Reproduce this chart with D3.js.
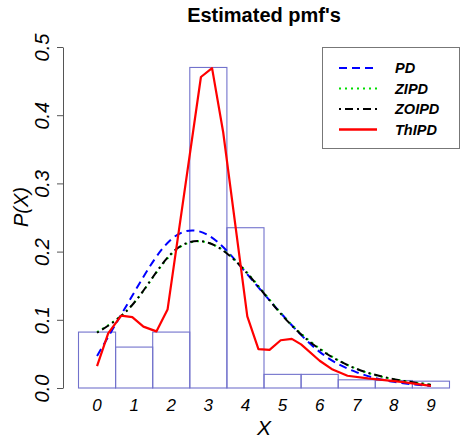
<!DOCTYPE html>
<html lang="en">
<head>
    <meta charset="UTF-8">
    <title>Estimated pmf's</title>
    <script src="https://cdn.jsdelivr.net/npm/d3@7/dist/d3.min.js"></script>
    <style>
        body { margin: 0; background: #fff; font-family: "Liberation Sans", Arial, sans-serif; }
        svg { display: block; }
    </style>
</head>
<body>
    <div id="chart"></div>
    <script>
        // observed counts and relative frequencies
        const counts = [0, 1, 2, 3, 4, 5, 6, 7, 8, 9];
        const observed = [0.082, 0.060, 0.082, 0.470, 0.235, 0.020, 0.020, 0.012, 0.011, 0.010];

        // fitted pmf's at each count
        const pd    = [0.047, 0.140, 0.218, 0.224, 0.170, 0.107, 0.053, 0.023, 0.009, 0.003];
        const zipd  = [0.082, 0.125, 0.196, 0.213, 0.172, 0.107, 0.058, 0.028, 0.013, 0.005];
        const zoipd = [0.081, 0.125, 0.197, 0.213, 0.171, 0.106, 0.057, 0.028, 0.013, 0.0045];

        // ThIPD curve, traced on its own grid
        const thipdX = [0, 0.3, 0.65, 0.95, 1.25, 1.6, 1.9, 2.8, 3.1, 3.4, 4.05, 4.35, 4.65, 4.95, 5.25, 5.5, 6.0, 6.35, 6.75, 7.3, 8.2, 9];
        const thipdP = [0.032, 0.08, 0.106, 0.104, 0.09, 0.083, 0.115, 0.456, 0.469, 0.375, 0.105, 0.057, 0.056, 0.07, 0.072, 0.064, 0.04, 0.027, 0.018, 0.014, 0.009, 0.003];

        const yTicks = [0, 0.1, 0.2, 0.3, 0.4, 0.5];

        const width = 463, height = 438;
        const svg = d3.select("#chart").append("svg")
            .attr("width", width)
            .attr("height", height);

        const x = d3.scaleLinear().domain([-0.5, 9.5]).range([78.5, 449.5]);
        const y = d3.scaleLinear().domain([0, 0.5]).range([388, 47]);

        // title
        svg.append("text")
            .attr("x", 264).attr("y", 22)
            .attr("text-anchor", "middle")
            .style("font-size", "20px").style("font-weight", "bold")
            .text("Estimated pmf's");

        // histogram boxes
        svg.append("g")
            .selectAll("rect")
            .data(counts)
            .join("rect")
            .attr("x", d => x(d - 0.5))
            .attr("y", (d, i) => y(observed[i]))
            .attr("width", x(1) - x(0))
            .attr("height", (d, i) => y(0) - y(observed[i]))
            .attr("fill", "none")
            .attr("stroke", "#7272cc")
            .attr("stroke-width", 1.1);

        // y axis
        const yAxis = svg.append("g")
            .attr("transform", "translate(63,0)")
            .call(d3.axisLeft(y).tickValues(yTicks).tickSize(6).tickFormat(d3.format(".1f")).tickSizeOuter(0));
        yAxis.select(".domain").attr("stroke", "#555");
        yAxis.selectAll(".tick line").attr("stroke", "#555");
        yAxis.selectAll(".tick text")
            .attr("x", null).attr("dy", null)
            .attr("transform", "translate(-21,0) rotate(-90)")
            .attr("text-anchor", "middle")
            .attr("dominant-baseline", "central")
            .attr("fill", "#000")
            .style("font-size", "20px").style("font-style", "italic")
            .style("font-family", "'Liberation Sans', Arial, sans-serif");

        // x tick labels (no axis line)
        svg.append("g")
            .selectAll("text")
            .data(counts)
            .join("text")
            .attr("x", d => x(d))
            .attr("y", 411)
            .attr("text-anchor", "middle")
            .style("font-size", "17px").style("font-style", "italic")
            .text(d => d);

        svg.append("text")
            .attr("x", x(4.5)).attr("y", 435)
            .attr("text-anchor", "middle")
            .style("font-size", "21px").style("font-style", "italic")
            .text("X");

        svg.append("text")
            .attr("transform", "translate(28,207) rotate(-90)")
            .attr("text-anchor", "middle")
            .style("font-size", "20px").style("font-style", "italic")
            .text("P(X)");

        // fitted curves
        const smooth = d3.line()
            .x((d, i) => x(counts[i]))
            .y(d => y(d))
            .curve(d3.curveNatural);

        const series = [
            { name: "PD", values: pd, color: "#0000ff", dash: "8,5", width: 2 },
            { name: "ZIPD", values: zipd, color: "#00dd00", dash: "2,4", width: 2 },
            { name: "ZOIPD", values: zoipd, color: "#000", dash: "2,4,8,4", width: 2 },
        ];

        series.forEach(s => {
            svg.append("path")
                .attr("d", smooth(s.values))
                .attr("fill", "none")
                .attr("stroke", s.color)
                .attr("stroke-width", s.width)
                .attr("stroke-dasharray", s.dash);
        });

        const thLine = d3.line()
            .x((d, i) => x(thipdX[i]))
            .y(d => y(d));

        svg.append("path")
            .attr("d", thLine(thipdP))
            .attr("fill", "none")
            .attr("stroke", "#ff0000")
            .attr("stroke-width", 2.2)
            .attr("stroke-linejoin", "round");

        // legend
        const legend = svg.append("g");
        legend.append("rect")
            .attr("x", 322.5).attr("y", 47.5)
            .attr("width", 137).attr("height", 101)
            .attr("fill", "#fff")
            .attr("stroke", "#777")
            .attr("stroke-width", 1);

        const legendItems = series.concat([{ name: "ThIPD", color: "#ff0000", dash: null, width: 2.5 }]);
        legendItems.forEach((s, i) => {
            const ly = 68 + i * 20.5;
            legend.append("line")
                .attr("x1", 339).attr("x2", 377)
                .attr("y1", ly).attr("y2", ly)
                .attr("stroke", s.color)
                .attr("stroke-width", s.width)
                .attr("stroke-dasharray", s.dash);
            legend.append("text")
                .attr("x", 395).attr("y", ly)
                .attr("dominant-baseline", "central")
                .style("font-size", "14.5px").style("font-weight", "bold").style("font-style", "italic")
                .text(s.name);
        });
    </script>
</body>
</html>
